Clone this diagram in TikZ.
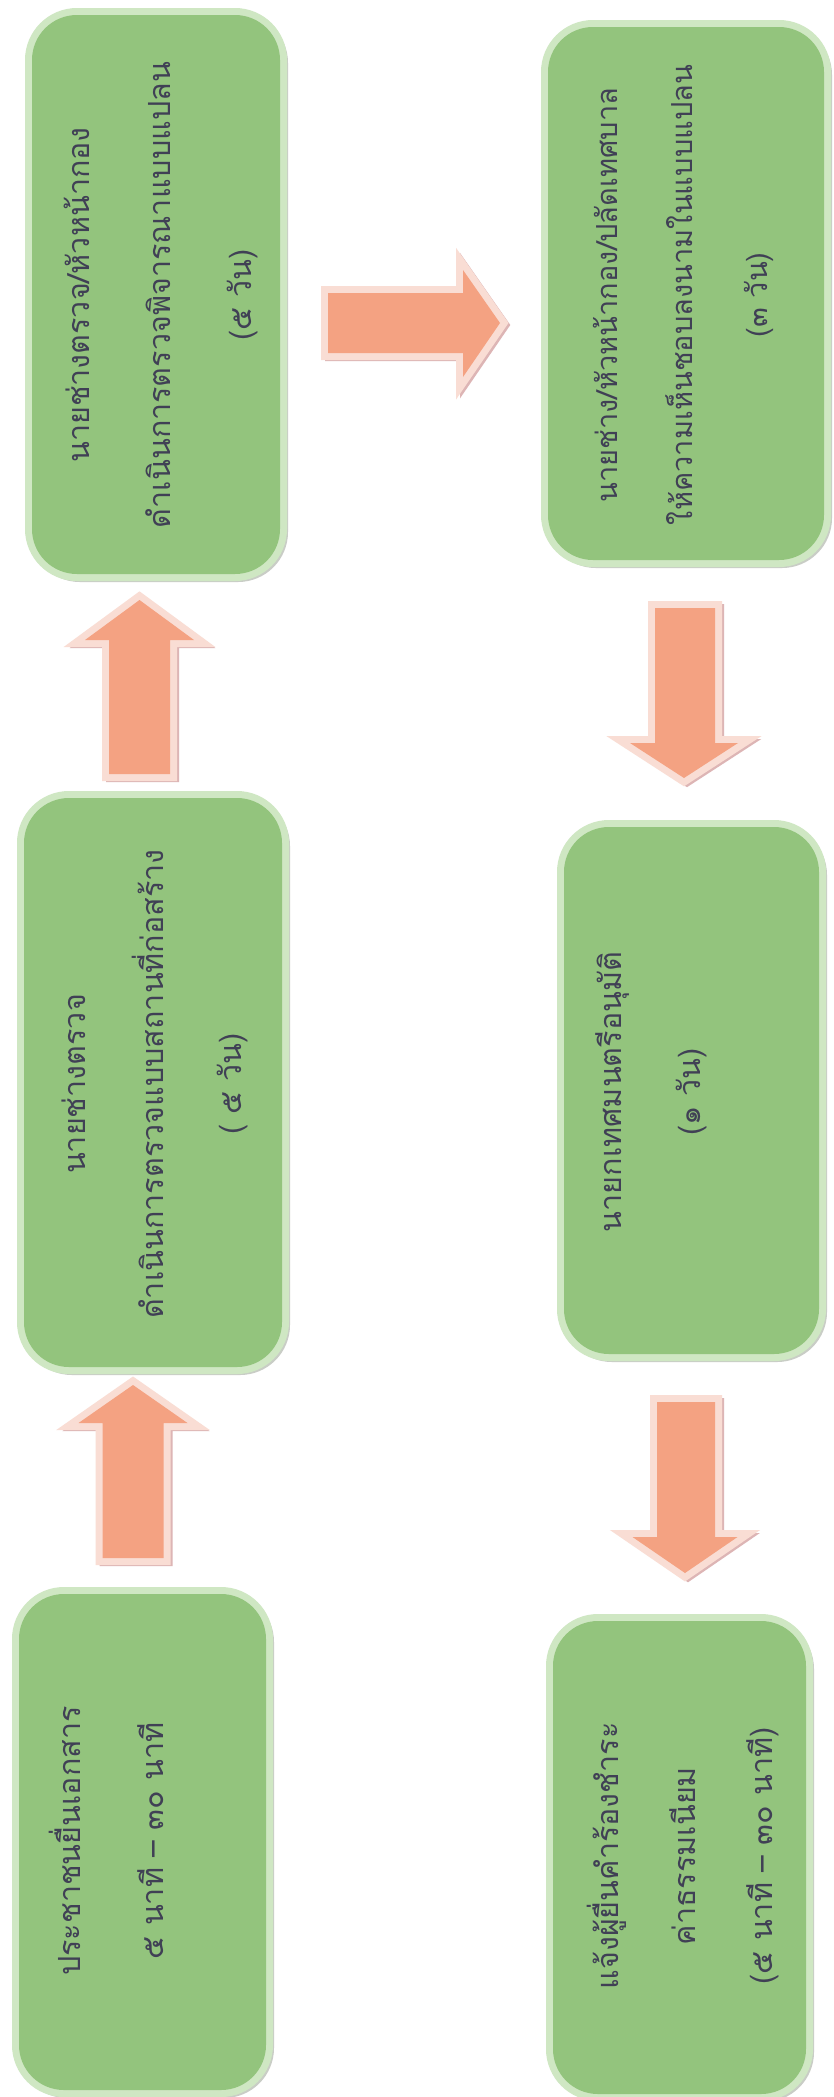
\documentclass[tikz,border=0pt]{standalone}
\usepackage{fontspec}
\newfontfamily\thaifont[Script=Thai]{Loma}
\definecolor{boxfill}{HTML}{93C47D}
\definecolor{boxglow}{HTML}{CFE7C3}
\definecolor{boxshadow}{HTML}{C9CDC6}
\definecolor{arrfill}{HTML}{F4A282}
\definecolor{arrglow}{HTML}{F9DDD4}
\definecolor{arrshadow}{HTML}{DDB5B5}
\definecolor{txtcol}{HTML}{404055}
\tikzset{
  stepbox/.style={rectangle, rounded corners=45pt, fill=boxfill, inner sep=0pt,
    preaction={draw=boxshadow, line width=10pt, transform canvas={shift={(3pt,-3pt)}}},
    preaction={draw=boxglow, line width=14pt}},
  blockarrow/.style={fill=arrfill,
    preaction={draw=arrshadow, line width=12pt, line join=miter, transform canvas={shift={(3pt,-2pt)}}},
    preaction={draw=arrglow, line width=14pt, line join=miter}},
  steptext/.style={rotate=90, align=center, text=txtcol, inner sep=0pt},
}
\begin{document}
\begin{tikzpicture}[x=1pt,y=-1pt]
\fill[white] (0,0) rectangle (834,2097);
\useasboundingbox (0,0) rectangle (834,2097);
% boxes
\node[stepbox, minimum width=248pt, minimum height=559pt] (A) at (156,294.5) {};
\node[stepbox, minimum width=258pt, minimum height=569pt] (B) at (153,1082.5) {};
\node[stepbox, minimum width=247pt, minimum height=496pt] (C) at (142.5,1842) {};
\node[stepbox, minimum width=276pt, minimum height=533pt] (D) at (686,293.5) {};
\node[stepbox, minimum width=255pt, minimum height=527pt] (E) at (691.5,1090.5) {};
\node[stepbox, minimum width=253pt, minimum height=473pt] (F) at (679.5,1857.5) {};
% texts
\node[steptext, font=\thaifont\fontsize{30.5}{81}\selectfont] (tA) at (161,295)
  {นายช่างตรวจ/หัวหน้ากอง\\ดำเนินการตรวจพิจารณาแบบแปลน\\(๕ วัน)};
\node[steptext, font=\thaifont\fontsize{30.5}{78}\selectfont] (tB) at (155,1084)
  {นายช่างตรวจ\\ดำเนินการตรวจแบบสถานที่ก่อสร้าง\\( ๕ วัน)};
\node[steptext, font=\thaifont\fontsize{30.5}{83}\selectfont] (tC) at (106,1841)
  {ประชาชนยื่นเอกสาร\\๕ นาที – ๓๐ นาที};
\node[steptext, font=\thaifont\fontsize{29}{75}\selectfont] (tD) at (683,295)
  {นายช่าง/หัวหน้ากอง/ปลัดเทศบาล\\ให้ความเห็นชอบลงนามในแบบแปลน\\(๓ วัน)};
\node[steptext, font=\thaifont\fontsize{30.5}{79}\selectfont] (tE) at (651,1092)
  {นายกเทศมนตรีอนุมัติ\\(๑ วัน)};
\node[steptext, font=\thaifont\fontsize{30.5}{77}\selectfont] (tF) at (683,1856)
  {แจ้งผู้ยื่นคำร้องชำระ\\ค่าธรรมเนียม\\(๕ นาที – ๓๐ นาที)};
% block arrows
\path[blockarrow] (133,1385) -- (187.5,1423) -- (163.5,1423) -- (163.5,1558)
  -- (102.5,1558) -- (102.5,1423) -- (78.5,1423) -- cycle;
\path[blockarrow] (139.5,600) -- (194,640) -- (170,640) -- (170,774)
  -- (109,774) -- (109,640) -- (85,640) -- cycle;
\path[blockarrow] (500,323) -- (463,377) -- (463,353) -- (328,353)
  -- (328,293) -- (463,293) -- (463,270) -- cycle;
\path[blockarrow] (684,778) -- (738,743) -- (715,743) -- (715,608)
  -- (655,608) -- (655,743) -- (630,743) -- cycle;
\path[blockarrow] (685,1573) -- (737.5,1537) -- (715,1537) -- (715,1402)
  -- (657,1402) -- (657,1537) -- (632.5,1537) -- cycle;
\end{tikzpicture}
\end{document}
